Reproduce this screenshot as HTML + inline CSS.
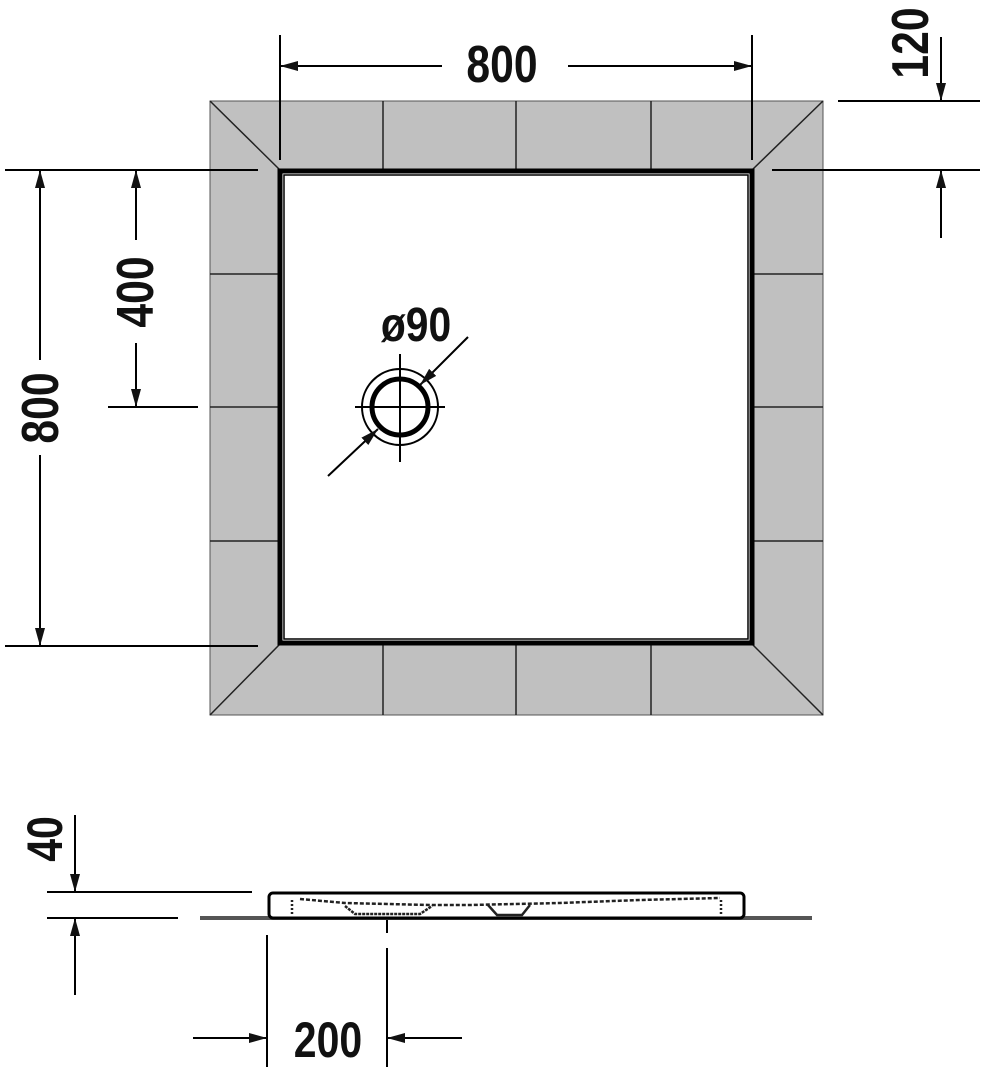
<!DOCTYPE html>
<html><head><meta charset="utf-8"><style>
html,body{margin:0;padding:0;background:#fff;}
svg{display:block}
text{font-family:"Liberation Sans",sans-serif;font-weight:bold;fill:#111}
</style></head><body>
<svg width="1000" height="1074" viewBox="0 0 1000 1074" xmlns="http://www.w3.org/2000/svg">
<defs>
<marker id="a" viewBox="0 0 18 10" refX="18" refY="5" markerWidth="18" markerHeight="10" markerUnits="userSpaceOnUse" orient="auto"><path d="M0,0 L18,5 L0,10 Z" fill="#111"/></marker>
</defs>
<rect x="210" y="101" width="613" height="614" fill="#c0c0c0" stroke="#555" stroke-width="1"/>
<g stroke="#222" stroke-width="1.5">
<line x1="210" y1="101" x2="280" y2="170"/><line x1="823" y1="101" x2="752" y2="170"/>
<line x1="210" y1="715" x2="280" y2="644"/><line x1="823" y1="715" x2="752" y2="644"/>
<line x1="383" y1="101" x2="383" y2="170"/><line x1="516" y1="101" x2="516" y2="170"/><line x1="651" y1="101" x2="651" y2="170"/>
<line x1="383" y1="644" x2="383" y2="715"/><line x1="516" y1="644" x2="516" y2="715"/><line x1="651" y1="644" x2="651" y2="715"/>
<line x1="210" y1="274" x2="280" y2="274"/><line x1="210" y1="407" x2="280" y2="407"/><line x1="210" y1="541" x2="280" y2="541"/>
<line x1="752" y1="274" x2="823" y2="274"/><line x1="752" y1="407" x2="823" y2="407"/><line x1="752" y1="541" x2="823" y2="541"/>
</g>
<rect x="280" y="171" width="472" height="472" fill="#fff" stroke="#000" stroke-width="5"/>
<rect x="284" y="175" width="464" height="464" fill="none" stroke="#000" stroke-width="1.5"/>
<circle cx="400" cy="407" r="38" fill="none" stroke="#000" stroke-width="2"/>
<circle cx="400" cy="407" r="28" fill="none" stroke="#000" stroke-width="5"/>
<g stroke="#000" stroke-width="2">
<line x1="355" y1="407" x2="445" y2="407"/><line x1="400" y1="354" x2="400" y2="462"/>
<line x1="468" y1="337" x2="420" y2="385" marker-end="url(#a)"/>
<line x1="328" y1="476" x2="378" y2="429" marker-end="url(#a)"/>
<line x1="280" y1="35" x2="280" y2="160"/><line x1="752" y1="35" x2="752" y2="160"/>
<line x1="442" y1="66" x2="280" y2="66" marker-end="url(#a)"/>
<line x1="568" y1="66" x2="752" y2="66" marker-end="url(#a)"/>
<line x1="838" y1="101" x2="980" y2="101"/><line x1="772" y1="170" x2="980" y2="170"/>
<line x1="941" y1="37" x2="941" y2="101" marker-end="url(#a)"/>
<line x1="941" y1="238" x2="941" y2="170" marker-end="url(#a)"/>
<line x1="5" y1="170" x2="258" y2="170"/><line x1="5" y1="646" x2="258" y2="646"/><line x1="108" y1="407" x2="198" y2="407"/>
<line x1="40" y1="360" x2="40" y2="170" marker-end="url(#a)"/>
<line x1="40" y1="455" x2="40" y2="646" marker-end="url(#a)"/>
<line x1="136" y1="240" x2="136" y2="170" marker-end="url(#a)"/>
<line x1="136" y1="343" x2="136" y2="407" marker-end="url(#a)"/>
<line x1="47" y1="892" x2="252" y2="892"/><line x1="47" y1="918" x2="178" y2="918"/>
<line x1="75" y1="815" x2="75" y2="892" marker-end="url(#a)"/>
<line x1="75" y1="995" x2="75" y2="918" marker-end="url(#a)"/>
<line x1="267" y1="935" x2="267" y2="1067"/>
<line x1="387" y1="895" x2="387" y2="933"/><line x1="387" y1="948" x2="387" y2="1067"/>
<line x1="193" y1="1038" x2="267" y2="1038" marker-end="url(#a)"/>
<line x1="462" y1="1038" x2="387" y2="1038" marker-end="url(#a)"/>
</g>
<line x1="200" y1="918" x2="812" y2="918" stroke="#555" stroke-width="4"/>
<rect x="269" y="893" width="475" height="25" rx="4" fill="#fff" stroke="#000" stroke-width="3"/>
<g stroke="#222" stroke-width="2.5" fill="none">
<path d="M300,899 L345,903 L430,905 L470,905 L560,903 L640,900 L720,898" stroke-dasharray="4,2"/>
<path d="M345,906 L355,914 L420,914 L432,906" stroke-dasharray="3,1"/>
<path d="M488,905 L497,915 L522,915 L530,905"/>
<line x1="292" y1="900" x2="292" y2="916" stroke-dasharray="2,2"/>
<line x1="721" y1="900" x2="721" y2="916" stroke-dasharray="2,2"/>
</g>
<text transform="translate(502,82) scale(0.82,1)" font-size="52" text-anchor="middle">800</text>
<text transform="translate(928,43) rotate(-90) scale(0.82,1)" font-size="52" text-anchor="middle">120</text>
<text transform="translate(153,292) rotate(-90) scale(0.82,1)" font-size="52" text-anchor="middle">400</text>
<text transform="translate(58,408) rotate(-90) scale(0.82,1)" font-size="52" text-anchor="middle">800</text>
<text transform="translate(416,341) scale(0.85,1)" font-size="48" text-anchor="middle">ø90</text>
<text transform="translate(62,839) rotate(-90) scale(0.82,1)" font-size="50" text-anchor="middle">40</text>
<text transform="translate(328,1057) scale(0.82,1)" font-size="50" text-anchor="middle">200</text>
</svg>
</body></html>
